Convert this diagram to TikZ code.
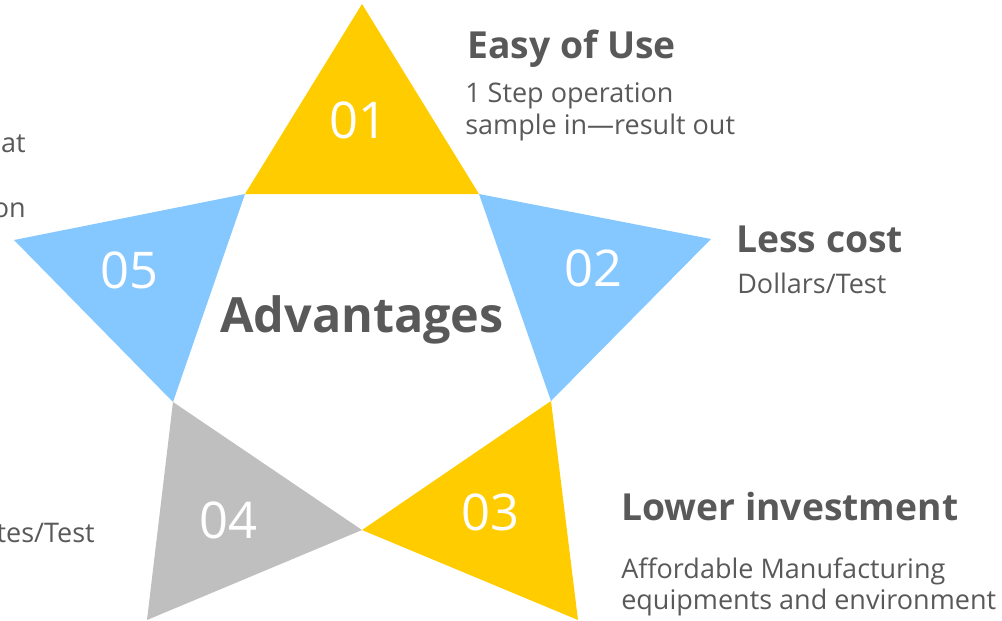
\documentclass[tikz,border=0pt]{standalone}
\usepackage{fontspec}
\setmainfont{Open Sans}
\usepackage{tikz}
\usetikzlibrary{calc}

\definecolor{starYellow}{HTML}{FFCC00}
\definecolor{starBlue}{HTML}{85C8FF}
\definecolor{starGray}{HTML}{BFBFBF}
\definecolor{txtGray}{HTML}{595959}

\begin{document}
\begin{tikzpicture}[x=0.025cm,y=-0.025cm,
  num/.style={text=white,font=\fontsize{36}{40}\selectfont},
  head/.style={anchor=base west,text=txtGray,font=\fontsize{26.5}{30}\selectfont\bfseries,inner sep=0pt},
  sub/.style={anchor=base west,text=txtGray,font=\fontsize{19.2}{23}\selectfont,inner sep=0pt,align=left}]
  \useasboundingbox (0,0) rectangle (1002,620);
  % outer and inner points of the star
  \coordinate (T) at (362,4);
  \coordinate (R) at (711,239);
  \coordinate (BR) at (578,620);
  \coordinate (BL) at (147,620);
  \coordinate (L) at (14,240);
  \coordinate (I1) at (245,194);
  \coordinate (I2) at (479,194);
  \coordinate (I3) at (551,401);
  \coordinate (I4) at (362,530);
  \coordinate (I5) at (173,402);
  \fill [starYellow] (T) -- (I2) -- (I1) -- cycle;
  \fill [starBlue] (I2) -- (R) -- (I3) -- cycle;
  \fill [starYellow] (I3) -- (BR) -- (I4) -- cycle;
  \fill [starGray] (I4) -- (BL) -- (I5) -- cycle;
  \fill [starBlue] (I5) -- (L) -- (I1) -- cycle;
  \node [num] (n1) at (358,120) {01};
  \node [num] (n2) at (593,268) {02};
  \node [num] (n3) at (490,512) {03};
  \node [num] (n4) at (228,520) {04};
  \node [num] (n5) at (129,270) {05};
  \node [anchor=base,inner sep=0pt,text=txtGray,font=\fontsize{34.5}{40}\selectfont\bfseries] (adv) at (362,332) {Advantages};
  % texts beside the points
  \node [head] (h1) at (467,58) {Easy of Use};
  \node [sub] (s1) at (465,102) {1 Step operation};
  \node [sub] (s1b) at (465,134) {sample in—result out};
  \node [head] (h2) at (736,252) {Less cost};
  \node [sub] (s2) at (737,293) {Dollars/Test};
  \node [head] (h3) at (621,520) {Lower investment};
  \node [sub] (s3) at (621,578) {Affordable Manufacturing};
  \node [sub] (s3b) at (621,609) {equipments and environment};
  % cut off at the left edge
  \node [sub,anchor=base east] (c1) at (26,152) {at};
  \node [sub,anchor=base east] (c2) at (26,217) {on};
  \node [sub,anchor=base east] (c3) at (95,542) {tes/Test};
\end{tikzpicture}
\end{document}
